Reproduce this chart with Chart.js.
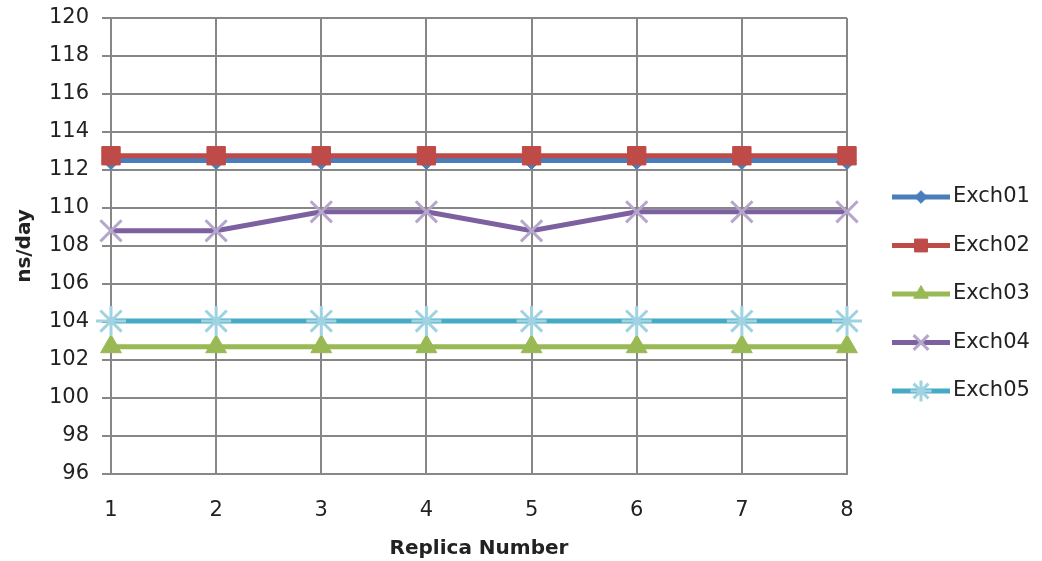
<!DOCTYPE html>
<html>
<head>
<meta charset="utf-8">
<script src="https://cdn.jsdelivr.net/npm/chart.js@4/dist/chart.umd.min.js"></script>
<style>
  html, body { margin: 0; padding: 0; background: #fff; }
  #wrap { width: 1042px; height: 561px; position: relative; }
</style>
</head>
<body>
<div id="wrap"><canvas id="c"></canvas></div>
<script>
// Replica throughput (ns/day) per exchange setting
const replicas = ['1', '2', '3', '4', '5', '6', '7', '8'];
const seriesNames = ['Exch01', 'Exch02', 'Exch03', 'Exch04', 'Exch05'];
const exch01 = [112.5, 112.5, 112.5, 112.5, 112.5, 112.5, 112.5, 112.5];
const exch02 = [112.75, 112.75, 112.75, 112.75, 112.75, 112.75, 112.75, 112.75];
const exch03 = [102.7, 102.7, 102.7, 102.7, 102.7, 102.7, 102.7, 102.7];
const exch04 = [108.8, 108.8, 109.8, 109.8, 108.8, 109.8, 109.8, 109.8];
const exch05 = [104.05, 104.05, 104.05, 104.05, 104.05, 104.05, 104.05, 104.05];
const yMin = 96, yMax = 120, yStep = 2;

const FONT = '"DejaVu Sans", Verdana, sans-serif';
const GRID = '#878787';
const TEXT = '#222';

const styles = [
  { line: '#4a7ebb', fill: '#4a7ebb', edge: '#4a7ebb', shape: 'rectRot', r: 9, bw: 1 },
  { line: '#be4b48', fill: '#be4b48', edge: '#be4b48', shape: 'rect', r: 13, bw: 1 },
  { line: '#98b954', fill: '#98b954', edge: '#98b954', shape: 'triangle', r: 12, bw: 1 },
  { line: '#7d60a0', fill: '#b6a6cc', edge: '#b6a6cc', shape: 'crossRot', r: 15, bw: 3 },
  { line: '#46aac5', fill: '#9fd3e2', edge: '#9fd3e2', shape: 'star', r: 15, bw: 3 }
];
const values = [exch01, exch02, exch03, exch04, exch05];

const datasets = values.map((v, i) => ({
  label: seriesNames[i],
  data: v,
  borderColor: styles[i].line,
  backgroundColor: styles[i].line,
  borderWidth: 5,
  tension: 0,
  pointStyle: styles[i].shape,
  pointRadius: styles[i].r,
  pointHoverRadius: styles[i].r,
  pointBackgroundColor: styles[i].fill,
  pointBorderColor: styles[i].edge,
  pointBorderWidth: styles[i].bw,
  order: values.length - i // later series are painted on top
}));

// Legend at the right: line sample with marker, then the series name
const sideLegend = {
  id: 'sideLegend',
  afterDraw(chart) {
    const ctx = chart.ctx;
    const area = chart.chartArea;
    const x0 = area.right + 45, x1 = area.right + 103, tx = area.right + 106;
    const yTop = area.top + 179, gap = 48.5;
    chart.data.datasets.forEach((ds, i) => {
      const y = yTop + i * gap;
      ctx.save();
      ctx.strokeStyle = ds.borderColor;
      ctx.lineWidth = ds.borderWidth;
      ctx.beginPath();
      ctx.moveTo(x0, y);
      ctx.lineTo(x1, y);
      ctx.stroke();
      ctx.fillStyle = ds.pointBackgroundColor;
      ctx.strokeStyle = ds.pointBorderColor;
      ctx.lineWidth = ds.pointBorderWidth;
      Chart.helpers.drawPoint(ctx, {
        pointStyle: ds.pointStyle,
        radius: ds.pointRadius * 0.7,
        borderWidth: ds.pointBorderWidth,
        rotation: 0
      }, (x0 + x1) / 2, y);
      ctx.fillStyle = TEXT;
      ctx.font = '21px ' + FONT;
      ctx.textBaseline = 'middle';
      ctx.textAlign = 'left';
      ctx.fillText(ds.label, tx, y);
      ctx.restore();
    });
  }
};

new Chart(document.getElementById('c'), {
  type: 'line',
  data: { labels: replicas, datasets },
  plugins: [sideLegend],
  options: {
    responsive: true,
    maintainAspectRatio: false,
    animation: false,
    layout: { padding: { left: 0, top: 17, right: 195, bottom: 0 } },
    plugins: { legend: { display: false }, tooltip: { enabled: false } },
    scales: {
      x: {
        type: 'category',
        offset: false,
        grid: { color: GRID, lineWidth: 2, drawTicks: false },
        border: { color: GRID, width: 2 },
        ticks: { color: TEXT, font: { family: FONT, size: 21 }, padding: 24 },
        title: {
          display: true, text: 'Replica Number', color: TEXT,
          font: { family: FONT, size: 20, weight: 'bold' },
          padding: { top: 0, bottom: 0 }
        },
        afterFit(scale) { scale.height = 87; }
      },
      y: {
        min: yMin, max: yMax,
        grid: { color: GRID, lineWidth: 2, tickLength: 9 },
        border: { color: GRID, width: 2 },
        ticks: { stepSize: yStep, color: TEXT, font: { family: FONT, size: 21 }, padding: 13 },
        title: {
          display: true, text: 'ns/day', color: TEXT,
          font: { family: FONT, size: 20, weight: 'bold' },
          padding: { top: 13, bottom: 0 }
        },
        afterFit(scale) {
          scale.width = 111;
          scale.paddingTop = 0;
          scale.paddingBottom = 0;
        }
      }
    }
  }
});
</script>
</body>
</html>
